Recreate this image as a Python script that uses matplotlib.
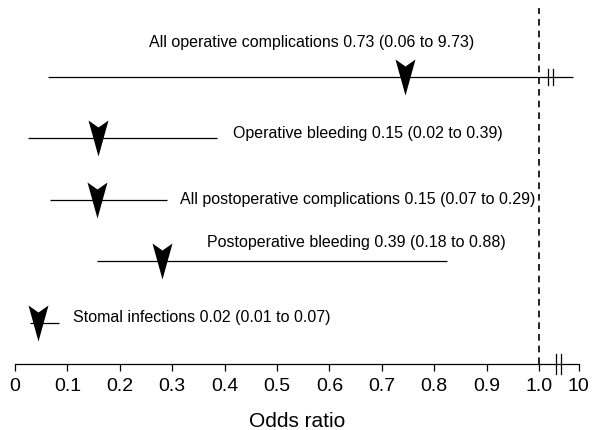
import matplotlib
matplotlib.use("Agg")
import matplotlib.pyplot as plt
from matplotlib.path import Path
import numpy as np

plt.rcParams['font.family'] = ['Liberation Sans', 'DejaVu Sans']

# ---- data (plotted positions) ----
labels = [
    "All operative complications 0.73 (0.06 to 9.73)",
    "Operative bleeding 0.15 (0.02 to 0.39)",
    "All postoperative complications 0.15 (0.07 to 0.29)",
    "Postoperative bleeding 0.39 (0.18 to 0.88)",
    "Stomal infections 0.02 (0.01 to 0.07)",
]
point = [0.744, 0.158, 0.157, 0.281, 0.043]
ci_low = [0.063, 0.025, 0.067, 0.156, 0.029]
ci_high = [1.065, 0.385, 0.290, 0.824, 0.084]

tick_vals = [0, 0.1, 0.2, 0.3, 0.4, 0.5, 0.6, 0.7, 0.8, 0.9, 1.0, 1.076]
tick_labels = ['0', '0.1', '0.2', '0.3', '0.4', '0.5', '0.6', '0.7', '0.8', '0.9', '1.0', '10']

# label placement: (x, y offset, ha)
label_pos = [(0.567, -0.56, 'center'), (0.416, -0.08, 'left'), (0.315, 0.0, 'left'),
             (0.366, -0.31, 'left'), (0.111, -0.08, 'left')]

fig = plt.figure(figsize=(5.95, 4.30), dpi=100)
ax = fig.add_axes([0, (430 - 364) / 430, 1, 364 / 430])
ax.set_xlim(-15 / 524, 580 / 524)
ax.set_ylim(4.67, -1.247)

arrow = Path([(-10, 18), (0, 11), (10, 18), (0, -18), (-10, 18)],
             [Path.MOVETO, Path.LINETO, Path.LINETO, Path.LINETO, Path.CLOSEPOLY])

rows = np.arange(len(labels))
for i in rows:
    ax.plot([ci_low[i], ci_high[i]], [i, i], color='black', lw=0.9, solid_capstyle='butt')
    ax.plot(point[i], i, marker=arrow, markersize=25.9, color='black', mec='black', mew=0)
    x, dy, ha = label_pos[i]
    ax.text(x, i + dy, labels[i], ha=ha, va='center', fontsize=11.5)

# break marks on first CI line
for bx in (1.017, 1.027):
    ax.plot([bx, bx], [-0.13, 0.13], color='black', lw=0.9)

# reference line
ax.axvline(1.0, ymin=0, ymax=(364 - 8) / 364, color='black', lw=1.2, ls=(0, (4, 3)))

# axis
for s in ('left', 'right', 'top'):
    ax.spines[s].set_visible(False)
ax.spines['bottom'].set_bounds(0, 1.076)
ax.spines['bottom'].set_linewidth(0.9)
ax.set_yticks([])
ax.set_xticks(tick_vals)
ax.set_xticklabels(tick_labels, fontsize=14)
ax.tick_params(axis='x', length=5, width=0.9, pad=5)
for bx in (1.032, 1.042):
    ax.plot([bx, bx], [4.67 - 0.16, 4.67 + 0.16], color='black', lw=0.9, clip_on=False)

fig.text(297 / 595, 3 / 430, "Odds ratio", ha='center', va='baseline', fontsize=15)

fig.savefig("out.png", dpi=100)
